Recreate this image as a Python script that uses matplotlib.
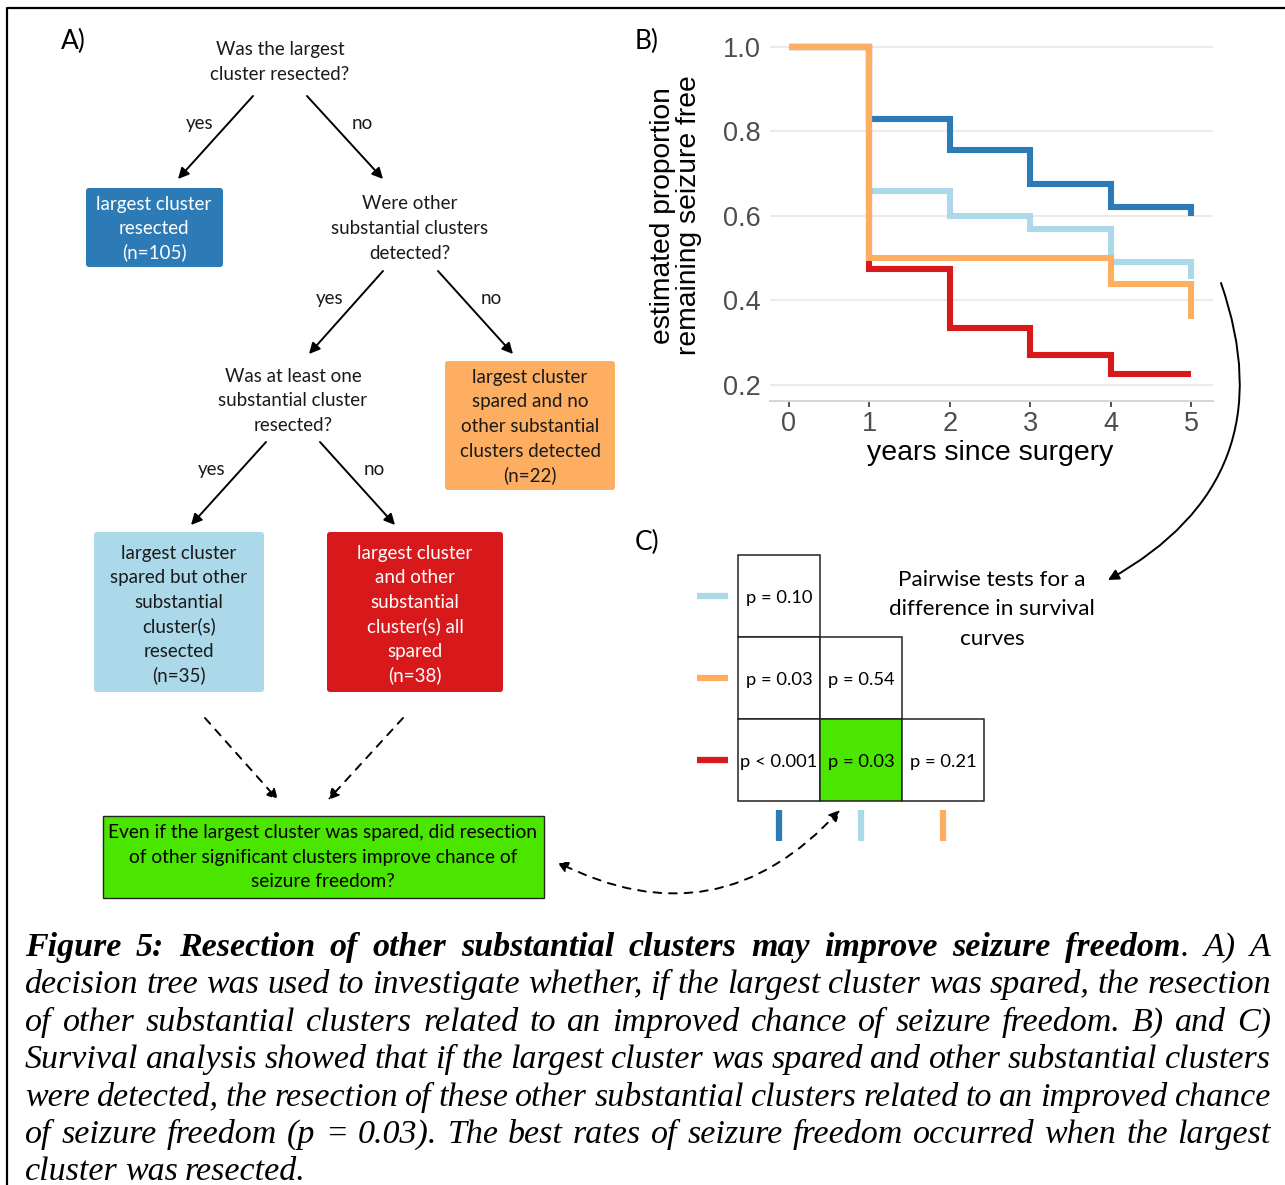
import matplotlib
matplotlib.use("Agg")
import matplotlib.pyplot as plt
from matplotlib.patches import FancyBboxPatch, Rectangle

# ---- panel B: Kaplan-Meier style survival estimates ----
YEARS = [0, 1, 2, 3, 4, 5]
SURV_LARGEST_RESECTED = [1.0, 0.83, 0.755, 0.675, 0.62, 0.60]
SURV_OTHER_RESECTED = [1.0, 0.66, 0.60, 0.57, 0.49, 0.45]
SURV_NO_OTHER = [1.0, 0.50, 0.50, 0.50, 0.44, 0.355]
SURV_ALL_SPARED = [1.0, 0.475, 0.335, 0.27, 0.225, 0.225]
Y_TICKS = [0.2, 0.4, 0.6, 0.8, 1.0]

# ---- panel C: pairwise p-values (lower triangle) ----
P_ROW_GROUPS = ["other_resected", "no_other", "all_spared"]
P_COL_GROUPS = ["largest_resected", "other_resected", "no_other"]
P_VALUES = [
    ["p = 0.10"],
    ["p = 0.03", "p = 0.54"],
    ["p < 0.001", "p = 0.03", "p = 0.21"],
]
P_HIGHLIGHT = (2, 1)

# ---- panel A: group sizes ----
N_LARGEST_RESECTED = 105
N_NO_OTHER = 22
N_OTHER_RESECTED = 35
N_ALL_SPARED = 38

COLORS = {
    "largest_resected": "#2C7BB6",
    "other_resected": "#ABD9E9",
    "no_other": "#FDAE61",
    "all_spared": "#D7191C",
}
GREEN = "#4BE600"

CAPTION = [
    [("Figure 5: Resection of other substantial clusters may improve seizure freedom", "bold"),
     (". A) A", "normal")],
    [("decision tree was used to investigate whether, if the largest cluster was spared, the resection", "normal")],
    [("of other substantial clusters related to an improved chance of seizure freedom. B) and C)", "normal")],
    [("Survival analysis showed that if the largest cluster was spared and other substantial clusters", "normal")],
    [("were detected, the resection of these other substantial clusters related to an improved chance", "normal")],
    [("of seizure freedom (p = 0.03). The best rates of seizure freedom occurred when the largest", "normal")],
    [("cluster was resected.", "normal")],
]

W, H = 1285, 1185
SANS = "Lato"
SERIF = "Liberation Serif"

fig = plt.figure(figsize=(W / 100, H / 100), dpi=100)
fig.patch.set_facecolor("white")

# full-figure overlay in pixel units (y downwards) for the diagram parts
ov = fig.add_axes([0, 0, 1, 1])
ov.set_xlim(0, W)
ov.set_ylim(H, 0)
ov.axis("off")
ov.patch.set_visible(False)

# outer frame
ov.plot([7, 7, W + 5], [H + 5, 8, 8], color="black", lw=1.6, solid_capstyle="projecting")


def lines(x, centers, text, size=13.5, color="#1a1a1a", **kw):
    fpx = size * 100 / 72
    for yc, s in zip(centers, text.split("\n")):
        ov.text(x, yc + 0.36 * fpx, s, ha="center", va="baseline",
                fontsize=size, color=color, family=SANS, **kw)


def box(x0, y0, x1, y1, color, edge=None):
    ov.add_patch(FancyBboxPatch((x0, y0), x1 - x0, y1 - y0,
                                boxstyle="round,pad=0,rounding_size=3",
                                facecolor=color, edgecolor=edge or color,
                                linewidth=1.0 if edge else 0))


def arrow(x0, y0, x1, y1, ls="-", style="-|>", rad=0.0):
    ov.annotate("", xy=(x1, y1), xytext=(x0, y0),
                arrowprops=dict(arrowstyle=style, color="black", lw=1.4,
                                linestyle=ls, mutation_scale=16,
                                shrinkA=0, shrinkB=0,
                                connectionstyle=f"arc3,rad={rad}"))


# ---------------- panel A ----------------
ov.text(73, 41, "A)", fontsize=19, family=SANS, ha="center", va="center")
lines(280, [48, 73], "Was the largest\ncluster resected?")
arrow(253, 96, 178, 179)
arrow(307, 96, 383, 179)
lines(200, [122], "yes")
lines(362, [122], "no")

box(86, 188, 223, 267, COLORS["largest_resected"])
lines(154, [203, 227, 251], f"largest cluster\nresected\n(n={N_LARGEST_RESECTED})", color="white")

lines(410, [202, 227, 252], "Were other\nsubstantial clusters\ndetected?")
arrow(383, 271, 309, 354)
arrow(438, 271, 513, 354)
lines(330, [297], "yes")
lines(491, [297], "no")

box(445, 361, 615, 490, COLORS["no_other"])
lines(530, [376, 400, 425, 450, 474],
      f"largest cluster\nspared and no\nother substantial\nclusters detected\n(n={N_NO_OTHER})")

lines(293, [375, 399, 424], "Was at least one\nsubstantial cluster\nresected?")
arrow(266, 442, 191, 525)
arrow(320, 442, 395, 525)
lines(212, [468], "yes")
lines(374, [468], "no")

box(94, 532, 264, 692, COLORS["other_resected"])
lines(179, [552, 576, 601, 625, 650, 674],
      f"largest cluster\nspared but other\nsubstantial\ncluster(s)\nresected\n(n={N_OTHER_RESECTED})")
box(327, 532, 503, 692, COLORS["all_spared"])
lines(415, [552, 576, 601, 625, 650, 674],
      f"largest cluster\nand other\nsubstantial\ncluster(s) all\nspared\n(n={N_ALL_SPARED})", color="white")

arrow(205, 718, 278, 800, ls=(0, (4, 4)))
arrow(403, 718, 328, 800, ls=(0, (4, 4)))

ov.add_patch(Rectangle((103, 816), 441, 82, facecolor=GREEN, edgecolor="#222222", lw=1.0))
lines(323, [831, 856, 880],
      "Even if the largest cluster was spared, did resection\nof other significant clusters improve chance of\nseizure freedom?",
      size=13.8, color="black")

# ---------------- panel C ----------------
ov.text(647, 542, "C)", fontsize=19, family=SANS, ha="center", va="center")
cx0, cy0, cs = 738, 555, 82
for r, row in enumerate(P_VALUES):
    for c, p in enumerate(row):
        fc = GREEN if (r, c) == P_HIGHLIGHT else "white"
        ov.add_patch(Rectangle((cx0 + c * cs, cy0 + r * cs), cs, cs,
                               facecolor=fc, edgecolor="#222222", lw=1.1))
        ov.text(cx0 + c * cs + cs / 2, cy0 + r * cs + cs / 2 + 6.5, p,
                ha="center", va="baseline", fontsize=13.2, family=SANS, color="black")
for r, g in enumerate(P_ROW_GROUPS):
    yc = cy0 + r * cs + cs / 2
    ov.plot([697, 728], [yc, yc], color=COLORS[g], lw=4.5, solid_capstyle="butt")
for c, g in enumerate(P_COL_GROUPS):
    xc = cx0 + c * cs + cs / 2
    ov.plot([xc, xc], [810, 841], color=COLORS[g], lw=4.5, solid_capstyle="butt")

lines(992, [578, 607, 637], "Pairwise tests for a\ndifference in survival\ncurves", size=16.2, color="black")

arrow(1221, 283, 1108, 580, rad=-0.42)
arrow(840, 810, 557, 862, ls=(0, (4, 4)), style="<|-|>", rad=-0.38)

# ---------------- panel B ----------------
ov.text(647, 41, "B)", fontsize=19, family=SANS, ha="center", va="center")

ax = fig.add_axes([770 / W, 1 - 401 / H, 443 / W, 371 / H])
ax.patch.set_visible(False)
curves = [
    (SURV_LARGEST_RESECTED, "largest_resected"),
    (SURV_OTHER_RESECTED, "other_resected"),
    (SURV_ALL_SPARED, "all_spared"),
    (SURV_NO_OTHER, "no_other"),
]
for surv, g in curves:
    ax.plot(YEARS, surv, drawstyle="steps-post", color=COLORS[g], lw=4.4,
            solid_joinstyle="miter", solid_capstyle="butt", zorder=3)

ax.set_xlim(-0.236, 5.27)
ax.set_ylim(0.162, 1.04)
ax.set_xticks(YEARS)
ax.set_yticks(Y_TICKS)
ax.set_yticklabels([f"{v:.1f}" for v in Y_TICKS])
ax.grid(axis="y", color="#EBEBEB", lw=1.5, zorder=0)
ax.grid(axis="x", visible=False)
for side in ("top", "right", "left"):
    ax.spines[side].set_visible(False)
ax.spines["bottom"].set_color("#D6D6D6")
ax.spines["bottom"].set_linewidth(1.5)
ax.tick_params(axis="y", length=0, pad=7, labelsize=19.5, labelcolor="#4D4D4D")
ax.tick_params(axis="x", length=4, width=1.2, color="#333333", pad=3,
               labelsize=19.5, labelcolor="#4D4D4D")
for t in ax.get_xticklabels() + ax.get_yticklabels():
    t.set_family("Liberation Sans")

ax.set_xlabel("years since surgery", fontsize=20.5, family="Liberation Sans")
ax.xaxis.set_label_coords(0.497, -0.14)
ax.xaxis.label.set_va("center")
ax.set_ylabel("estimated proportion\nremaining seizure free", fontsize=20.3,
              family="Liberation Sans", linespacing=1.0)
ax.yaxis.set_label_coords(-0.212, 0.5)
ax.yaxis.label.set_va("center")

# ---------------- caption (justified) ----------------
renderer = fig.canvas.get_renderer()
cap_x0, cap_x1 = 25, 1271
cap_size = 24.5
for i, chunks in enumerate(CAPTION):
    y = 956 + i * 37.4
    words = []
    for chunk, wt in chunks:
        parts = chunk.split(" ")
        for j, p in enumerate(parts):
            if not p:
                continue
            if j == 0 and words and not chunk.startswith(" "):
                words[-1].append((p, wt))
            else:
                words.append([(p, wt)])
    widths = []
    for wd in words:
        tot = 0
        for seg, wt in wd:
            t = ov.text(0, 0, seg, fontsize=cap_size, family=SERIF, style="italic",
                        fontweight=wt)
            tot += t.get_window_extent(renderer).width
            t.remove()
        widths.append(tot)
    last = i == len(CAPTION) - 1
    gap = (cap_x1 - cap_x0 - sum(widths)) / (len(words) - 1) if not last else 7.0
    x = cap_x0
    for wd, wwid in zip(words, widths):
        xx = x
        for seg, wt in wd:
            t = ov.text(xx, y, seg, fontsize=cap_size, family=SERIF, style="italic",
                        fontweight=wt, ha="left", va="baseline", color="black")
            xx += t.get_window_extent(renderer).width
        x += wwid + gap

fig.savefig("out.png", dpi=100, facecolor="white")
